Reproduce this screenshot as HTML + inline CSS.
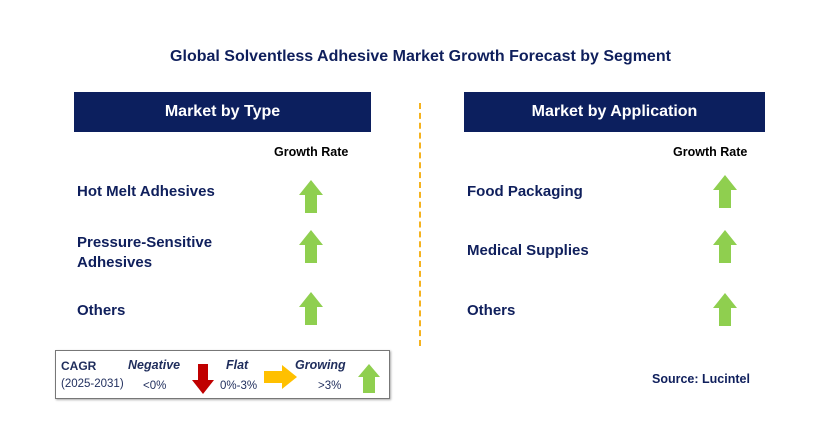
<!DOCTYPE html>
<html><head><meta charset="utf-8"><style>
body{margin:0;width:829px;height:428px;background:#fff;position:relative;overflow:hidden;font-family:"Liberation Sans",sans-serif}
.a{position:absolute}
.t{color:#0f1f5c;font-weight:bold;font-size:15px}
.h{background:#0c1f5e;color:#fff;font-weight:bold;font-size:16px;display:flex;align-items:center;justify-content:center}
.gr{font-size:12.5px;font-weight:bold;color:#000}
</style></head><body>
<div class="a t" style="left:0;width:841px;top:48px;text-align:center;font-size:16px">Global Solventless Adhesive Market Growth Forecast by Segment</div>
<div class="a h" style="left:74px;top:92px;width:297px;height:40px">Market by Type</div>
<div class="a h" style="left:464px;top:92px;width:301px;height:40px">Market by Application</div>
<div class="a" style="left:419px;top:103px;height:243px;border-left:2px dashed #f5b21e"></div>
<div class="a gr" style="left:274px;top:145px">Growth Rate</div>
<div class="a gr" style="left:673px;top:145px">Growth Rate</div>
<div class="a t" style="left:77px;top:183px">Hot Melt Adhesives</div>
<div class="a t" style="left:77px;top:233px;line-height:20px">Pressure-Sensitive<br>Adhesives</div>
<div class="a t" style="left:77px;top:302px">Others</div>
<div class="a t" style="left:467px;top:183px">Food Packaging</div>
<div class="a t" style="left:467px;top:242px">Medical Supplies</div>
<div class="a t" style="left:467px;top:302px">Others</div>
<svg class="a" style="left:0;top:0" width="829" height="428">
<g fill="#8fcf4f">
<polygon points="311,180 323,195 317,195 317,213 305,213 305,195 299,195"/>
<polygon points="311,230 323,245 317,245 317,263 305,263 305,245 299,245"/>
<polygon points="311,292 323,307 317,307 317,325 305,325 305,307 299,307"/>
<polygon points="725,175 737,190 731,190 731,208 719,208 719,190 713,190"/>
<polygon points="725,230 737,245 731,245 731,263 719,263 719,245 713,245"/>
<polygon points="725,293 737,308 731,308 731,326 719,326 719,308 713,308"/>
<polygon points="369,364 380,377 375,377 375,393 363,393 363,377 358,377"/>
</g>
<polygon fill="#c00000" points="198,364 208,364 208,380 214,380 203,394 192,380 198,380"/>
<polygon fill="#ffc000" points="264,371 282,371 282,365 297,377 282,389 282,383 264,383"/>
</svg>
<div class="a" style="left:55px;top:350px;width:333px;height:47px;border:1px solid #777;box-shadow:1px 1px 2px #aaa"></div>
<div class="a" style="left:61px;top:359px;font-size:12px;font-weight:bold;color:#1f2d5c">CAGR</div>
<div class="a" style="left:61px;top:378px;font-size:11.5px;color:#1f2d5c">(2025-2031)</div>
<div class="a" style="left:128px;top:358px;font-size:12.5px;font-weight:bold;font-style:italic;color:#1f2d5c">Negative</div>
<div class="a" style="left:143px;top:380px;font-size:11.5px;color:#1f2d5c">&lt;0%</div>
<div class="a" style="left:226px;top:358px;font-size:12.5px;font-weight:bold;font-style:italic;color:#1f2d5c">Flat</div>
<div class="a" style="left:220px;top:380px;font-size:11.5px;color:#1f2d5c">0%-3%</div>
<div class="a" style="left:295px;top:358px;font-size:12.5px;font-weight:bold;font-style:italic;color:#1f2d5c">Growing</div>
<div class="a" style="left:318px;top:380px;font-size:11.5px;color:#1f2d5c">&gt;3%</div>
<div class="a" style="left:652px;top:372px;font-size:12.5px;font-weight:bold;color:#0f1f5c">Source: Lucintel</div>
</body></html>
